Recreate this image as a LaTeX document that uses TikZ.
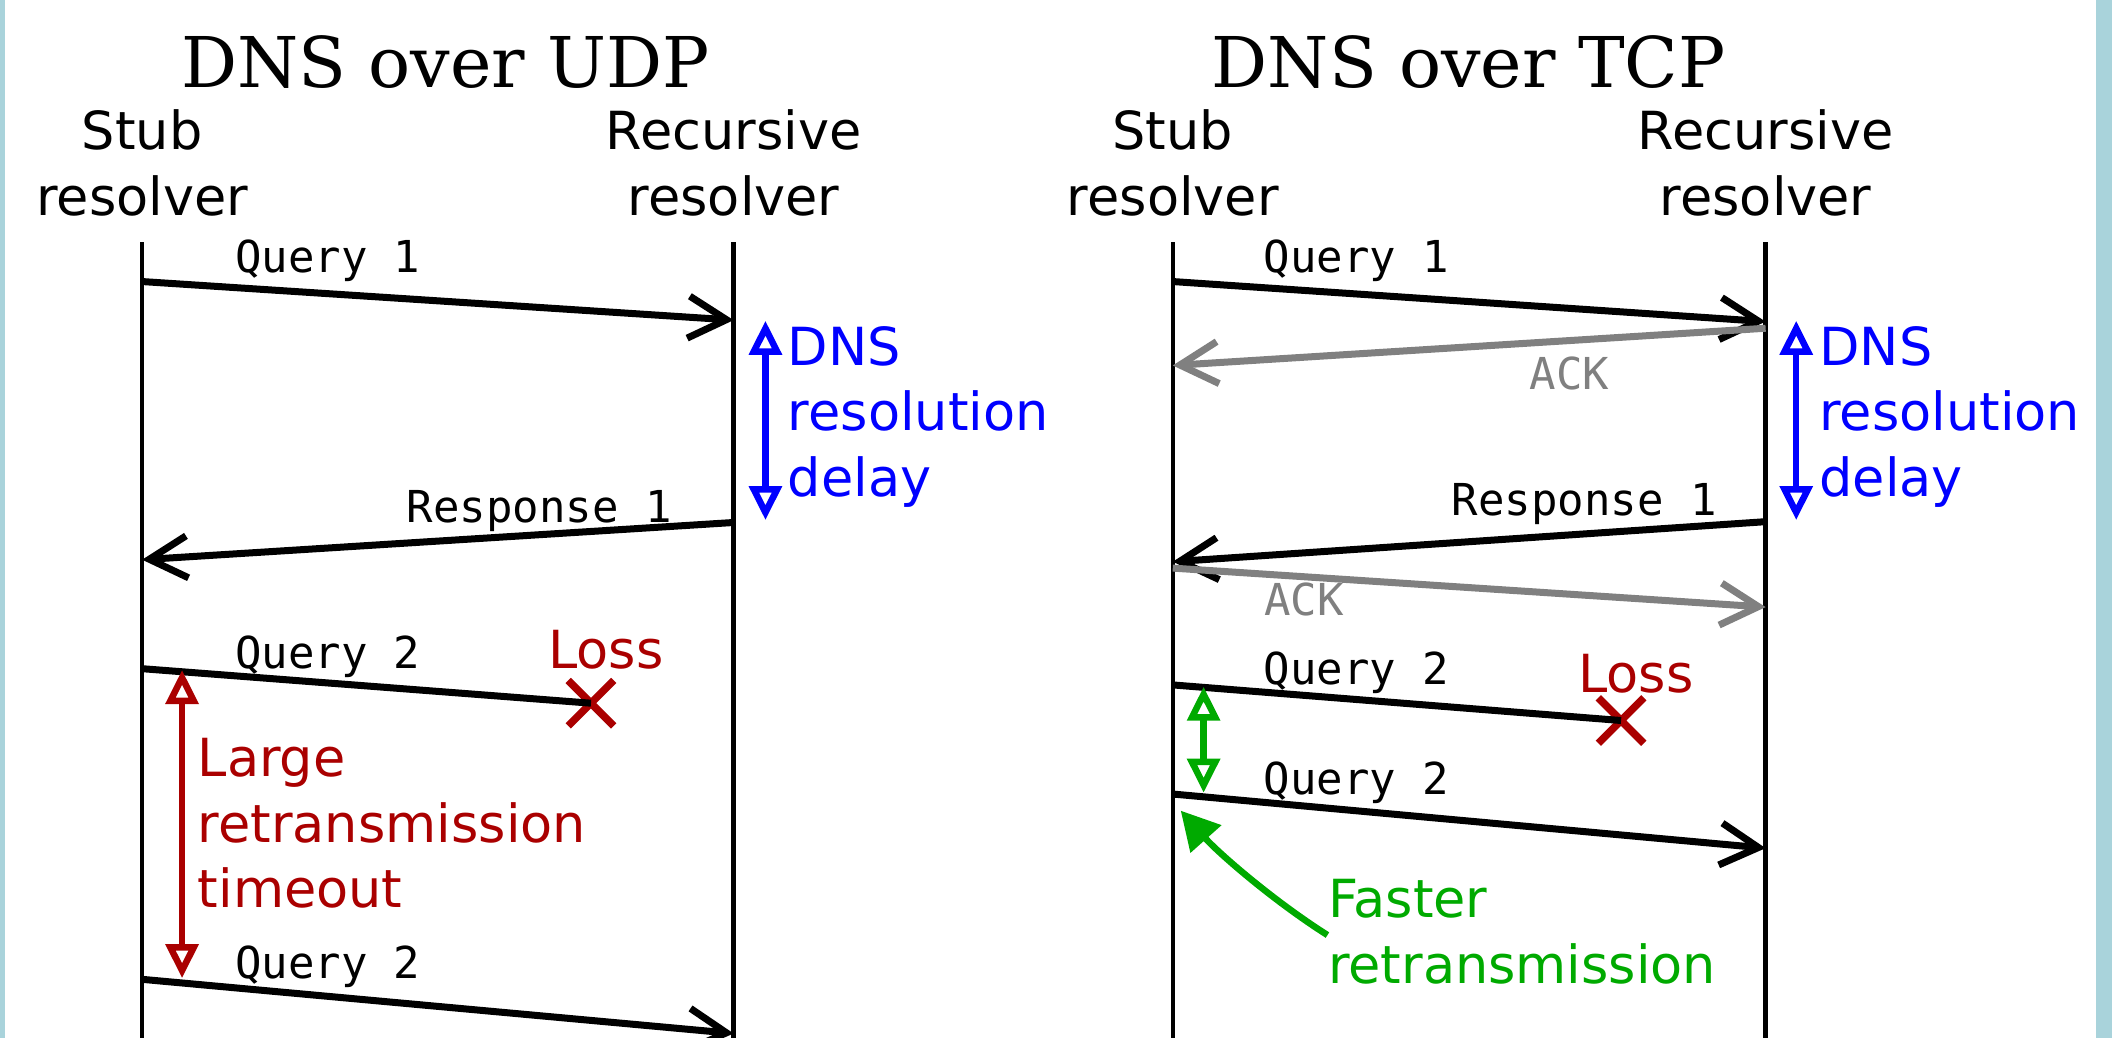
\documentclass[tikz,border=0pt]{standalone}
\usepackage{fontspec}
\newfontfamily\sansf{DejaVu Sans}
\newfontfamily\monof{DejaVu Sans Mono}
\newfontfamily\seriff{DejaVu Serif}
\usetikzlibrary{arrows.meta,shapes.misc}
\definecolor{dnsblue}{RGB}{0,0,255}
\definecolor{dnsred}{RGB}{170,0,0}
\definecolor{dnsgreen}{RGB}{0,170,0}
\definecolor{dnsgray}{RGB}{128,128,128}
\definecolor{edgeblue}{RGB}{169,211,219}
\begin{document}
\begin{tikzpicture}[x=1.35358pt,y=-1.35358pt,
  title/.style={font=\seriff\fontsize{70}{80}\selectfont, inner sep=0pt, anchor=base},
  actor/.style={font=\sansf\fontsize{52.5}{65.5}\selectfont, align=center, inner sep=0pt, anchor=base},
  lifeline/.style={line width=4.5pt, black},
  msg/.style={line width=7pt, -{Straight Barb[length=38pt,width=42pt]}},
  ackmsg/.style={msg, dnsgray},
  lostmsg/.style={line width=7pt},
  lbl/.style={font=\monof\fontsize{44}{50}\selectfont, inner sep=0pt, anchor=base west},
  note/.style={font=\sansf\fontsize{52.5}{65.5}\selectfont, align=left, inner sep=0pt, anchor=base west},
  span/.style={line width=6.5pt, {Triangle[open,length=34pt,width=32pt]}-{Triangle[open,length=34pt,width=32pt]}},
  lossmark/.style={cross out, draw=dnsred, line width=7.5pt, minimum size=38pt, inner sep=0pt},
]
\useasboundingbox (0,0) rectangle (1564,766.85);
\fill[white] (0,0) rectangle (1564,766.85);
\fill[edgeblue] (0,0) rectangle (4,766.85);
\fill[edgeblue] (1548.5,0) rectangle (1560.3,766.85);

% ---------- UDP ----------
\node[title] (t1) at (329,64.5) {DNS over UDP};
\node[actor] (a1) at (105,159.2) {Stub\\resolver};
\node[actor] (b1) at (542,159.2) {Recursive\\resolver};
\coordinate (s1top) at (105,179); \coordinate (s1bot) at (105,767);
\coordinate (r1top) at (542,179); \coordinate (r1bot) at (542,767);
\draw[lifeline] (s1top) -- (s1bot);
\draw[lifeline] (r1top) -- (r1bot);

\coordinate (uq1a) at (105,208); \coordinate (uq1b) at (542,236.5);
\draw[msg] (uq1a) -- (uq1b);
\node[lbl] (uq1l) at (173.5,201.6) {Query 1};

\coordinate (ub1a) at (565.5,237); \coordinate (ub1b) at (565.5,384.2);
\draw[span, dnsblue] (ub1a) -- (ub1b);
\node[note, text=dnsblue] (ud) at (582,366.8) {DNS\\resolution\\delay};

\coordinate (ur1a) at (542,386); \coordinate (ur1b) at (105,413.5);
\draw[msg] (ur1a) -- (ur1b);
\node[lbl] (ur1l) at (300.5,386) {Response 1};

\coordinate (uq2a) at (105,494);
\node[lossmark] (ux) at (436.6,519.5) {};
\draw[lostmsg] (uq2a) -- (ux.center);
\node[lbl] (uq2l) at (173.5,493.5) {Query 2};
\node[note, text=dnsred] (ul) at (405,493.5) {Loss};

\coordinate (ut1a) at (134.5,495); \coordinate (ut1b) at (134.5,722.6);
\draw[span, dnsred] (ut1a) -- (ut1b);
\node[note, text=dnsred] (ut) at (146,670.8) {Large\\retransmission\\timeout};

\coordinate (uq3a) at (105,723.5); \coordinate (uq3b) at (542,763.5);
\draw[msg] (uq3a) -- (uq3b);
\node[lbl] (uq3l) at (173.5,723) {Query 2};

% ---------- TCP ----------
\node[title] (t2) at (1085,64.5) {DNS over TCP};
\node[actor] (a2) at (866.4,159.2) {Stub\\resolver};
\node[actor] (b2) at (1304.4,159.2) {Recursive\\resolver};
\coordinate (s2top) at (866.4,179); \coordinate (s2bot) at (866.4,767);
\coordinate (r2top) at (1304.4,179); \coordinate (r2bot) at (1304.4,767);
\draw[lifeline] (s2top) -- (s2bot);
\draw[lifeline] (r2top) -- (r2bot);

\coordinate (tq1a) at (866.4,208); \coordinate (tq1b) at (1304.4,237.6);
\draw[msg] (tq1a) -- (tq1b);
\node[lbl] (tq1l) at (933.5,201.5) {Query 1};

\coordinate (tk1a) at (1304.4,242.5); \coordinate (tk1b) at (866.4,270);
\draw[ackmsg] (tk1a) -- (tk1b);
\node[lbl, text=dnsgray] (tk1l) at (1130,287.6) {ACK};

\coordinate (tb1a) at (1327,237); \coordinate (tb1b) at (1327,384.2);
\draw[span, dnsblue] (tb1a) -- (tb1b);
\node[note, text=dnsblue] (td) at (1344,366.8) {DNS\\resolution\\delay};

\coordinate (tr1a) at (1304.4,385.4); \coordinate (tr1b) at (866.4,415);
\draw[msg] (tr1a) -- (tr1b);
\node[lbl] (tr1l) at (1072.5,380.5) {Response 1};

\coordinate (tk2a) at (866.4,419.7); \coordinate (tk2b) at (1304.4,448.5);
\draw[ackmsg] (tk2a) -- (tk2b);
\node[lbl, text=dnsgray] (tk2l) at (934,454.4) {ACK};

\coordinate (tq2a) at (866.4,506);
\node[lossmark] (tx) at (1197.6,532.3) {};
\draw[lostmsg] (tq2a) -- (tx.center);
\node[lbl] (tq2l) at (933.5,506) {Query 2};
\node[note, text=dnsred] (tl) at (1166,511.7) {Loss};

\coordinate (tg1a) at (889.2,507.3); \coordinate (tg1b) at (889.2,585.6);
\draw[span, dnsgreen] (tg1a) -- (tg1b);

\coordinate (tq3a) at (866.4,586.6); \coordinate (tq3b) at (1304.4,626.6);
\draw[msg] (tq3a) -- (tq3b);
\node[lbl] (tq3l) at (933.5,586.6) {Query 2};

\coordinate (fs) at (980.7,690.8); \coordinate (fe) at (872.3,598.9);
\draw[line width=6.5pt, dnsgreen, -{Triangle[length=38pt,width=40pt]}] (fs) .. controls (940,665) and (900,630) .. (fe);
\node[note, text=dnsgreen] (tf) at (981,726.4) {Faster\\retransmission};
\end{tikzpicture}
\end{document}
